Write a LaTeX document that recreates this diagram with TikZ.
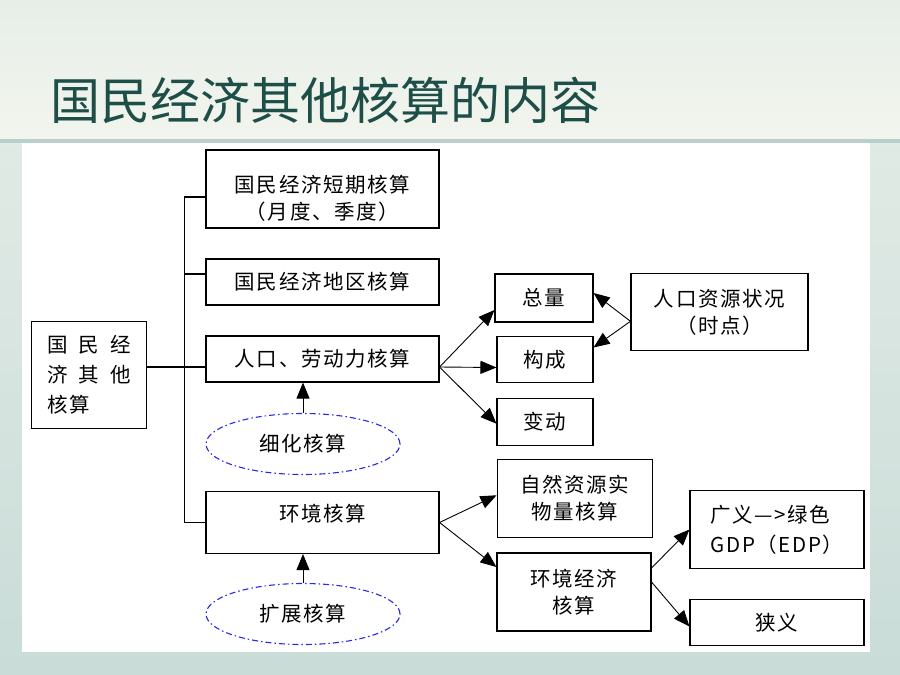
\documentclass[tikz,border=0pt]{standalone}
\usepackage{fontspec}
\usepackage{tikz}
\usetikzlibrary{shapes.geometric,arrows.meta,calc}
\setmainfont{Noto Sans CJK SC}
\newfontfamily\boxfont[LetterSpace=8]{Noto Sans CJK SC}
\definecolor{titleteal}{RGB}{30,78,72}
\definecolor{dashblue}{RGB}{40,40,235}
\definecolor{bgtop}{RGB}{231,238,232}
\definecolor{bgmid}{RGB}{242,245,238}
\definecolor{bgbottom}{RGB}{201,220,216}
\definecolor{bandline}{RGB}{185,207,203}
\tikzstyle{notions} = [rectangle,
draw=black,
line width=1.1pt,
fill=white,
inner sep=0pt,
align=center,
font=\boxfont\fontsize{20.5}{27}\selectfont]
\tikzstyle{idea} = [ellipse,
draw=dashblue,
line width=1.1pt,
dash pattern=on 6pt off 3pt on 1.5pt off 3pt,
inner sep=0pt,
minimum width=194pt,
minimum height=61pt,
font=\boxfont\fontsize{20.5}{27}\selectfont]
\tikzstyle{link} = [line width=1.1pt]
\tikzstyle{arrow} = [line width=0.9pt,-{Triangle[length=16pt,width=13pt]}]

\begin{document}
\begin{tikzpicture}[x=1pt,y=-1pt]
				\useasboundingbox (0,0) rectangle (900,675);
				\shade[top color=bgtop, bottom color=bgbottom] (0,0) rectangle (900,675);
				\shade[top color=bgtop, bottom color=bgmid] (0,0) rectangle (900,139);
				\fill[bandline] (0,139) rectangle (900,142.7);
				\fill[white] (22,142.7) rectangle (870,651.7);

				\node[anchor=west, text=titleteal, inner sep=0pt, font=\fontsize{50}{50}\selectfont] (title) at (50,100) {国民经济其他核算的内容};

				\node[notions, minimum width=115pt, minimum height=107pt, align=left, font=\boxfont\fontsize{20.5}{30}\selectfont] (o-a) at (89,375) {\makebox[84pt][s]{国\hfill 民\hfill 经}\\\makebox[84pt][s]{济\hfill 其\hfill 他}\\核算};
				\node[notions, minimum width=233pt, minimum height=78pt, text height=62pt] (s-t) at (322.5,189) {国民经济短期核算\\（月度、季度）};
				\node[notions, minimum width=233pt, minimum height=46pt] (r-a) at (322.5,282) {国民经济地区核算};
				\node[notions, minimum width=233pt, minimum height=46pt] (p-l) at (322.5,359) {人口、劳动力核算};
				\node[notions, minimum width=233pt, minimum height=62pt, text depth=20pt] (e-a) at (322.5,522.5) {环境核算};
				\node[idea] (d-a) at (303,444) {细化核算};
				\node[idea] (x-a) at (303,614) {扩展核算};

				\node[notions, minimum width=98pt, minimum height=48pt] (tot) at (544,298) {总量};
				\node[notions, minimum width=96pt, minimum height=46pt] (str) at (545,359.5) {构成};
				\node[notions, minimum width=96pt, minimum height=47pt] (chg) at (545,421.7) {变动};
				\node[notions, minimum width=177pt, minimum height=77pt] (p-r) at (719.5,312.3) {人口资源状况\\（时点）};
				\node[notions, minimum width=155pt, minimum height=78pt] (n-r) at (574.6,498.3) {自然资源实\\物量核算};
				\node[notions, minimum width=154pt, minimum height=78pt] (e-e) at (574,592) {环境经济\\核算};
				\node[notions, minimum width=174pt, minimum height=78pt, align=left, font=\boxfont\fontsize{20.5}{30}\selectfont] (b-s) at (777,529.5) {广义—>绿色\\GDP（EDP）};
				\node[notions, minimum width=174pt, minimum height=46pt] (n-s) at (777,622.5) {狭义};

				\coordinate (lvl) at ($(p-l.west)+(0,8)$);
				\draw[link] ($(s-t.west)+(0,8)$) -| ($(e-a.west)+(-21,0)$) -- (e-a.west);
				\draw[link] ($(r-a.west)+(0,-8)$) -- ++(-21,0);
				\draw[link] (o-a.east |- lvl) -- (lvl);

				\draw[arrow] (d-a.north) -- (d-a.north |- p-l.south);
				\draw[arrow] (x-a.north) -- (x-a.north |- e-a.south);

				\coordinate (p-out) at ($(p-l.east)+(0,8)$);
				\draw[arrow] (p-out) -- ($(tot.west)+(0,12)$);
				\draw[arrow] (p-out) -- ($(str.west)+(0,8)$);
				\draw[arrow] (p-out) -- ($(chg.west)+(0,2)$);
				\coordinate (r-out) at ($(p-r.west)+(0,9)$);
				\draw[arrow] (r-out) -- ($(tot.east)+(0,-5)$);
				\draw[arrow] (r-out) -- ($(str.east)+(0,-12)$);

				\draw[arrow] (e-a.east) -- ($(n-r.west)+(0,-3)$);
				\draw[arrow] (e-a.east) -- ($(e-e.west)+(0,-25)$);
				\draw[arrow] ($(e-e.east)+(0,-24)$) -- (b-s.west);
				\draw[arrow] ($(e-e.east)+(0,-10)$) -- ($(n-s.west)+(0,4)$);
			\end{tikzpicture}
\end{document}
